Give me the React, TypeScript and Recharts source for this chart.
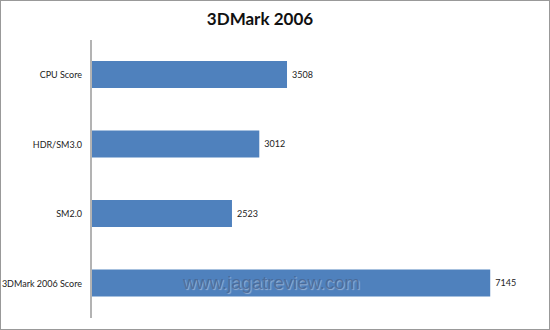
import { BarChart, Bar, XAxis, YAxis, LabelList } from "recharts";

const categories = ["CPU Score", "HDR/SM3.0", "SM2.0", "3DMark 2006 Score"];
const scores = [3508, 3012, 2523, 7145];

const data = categories.map((name, i) => ({ name, score: scores[i] }));

// plain tick so the long label does not wrap
const CatTick = (props: any) => {
  const { x, y, payload } = props;
  return (
    <text
      x={x}
      y={y}
      dy={3.5}
      textAnchor="end"
      fontSize={9}
      fill="#222"
      fontFamily="Lato"
    >
      {payload.value}
    </text>
  );
};

export default function App() {
  return (
    <div
      style={{
        position: "absolute",
        left: 0,
        top: 0,
        width: 550,
        height: 330,
        background: "#fff",
        fontFamily: "Lato, 'Open Sans', sans-serif",
      }}
    >
      <BarChart
        width={550}
        height={330}
        data={data}
        layout="vertical"
        margin={{ top: 40, right: 12, bottom: 12, left: 0 }}
      >
        <XAxis type="number" domain={[0, 8000]} hide />
        <YAxis
          type="category"
          dataKey="name"
          width={91}
          interval={0}
          axisLine={{ stroke: "#b3b3b3", strokeWidth: 2 }}
          tickLine={false}
          tickMargin={3}
          tick={<CatTick />}
        />
        <Bar dataKey="score" fill="#4f81bd" barSize={27} isAnimationActive={false}>
          <LabelList
            dataKey="score"
            position="right"
            offset={5}
            style={{ fontSize: 9, fill: "#222", fontFamily: "Lato" }}
          />
        </Bar>
      </BarChart>

      {/* title */}
      <div
        style={{
          position: "absolute",
          left: 0,
          top: 8,
          width: 520,
          textAlign: "center",
          fontSize: 17,
          fontWeight: "bold",
          color: "#111",
          fontFamily: "Lato",
          lineHeight: "22px",
        }}
      >
        3DMark 2006
      </div>

      {/* watermark */}
      <div
        style={{
          position: "absolute",
          left: 183,
          top: 271,
          fontSize: 18.5,
          fontFamily: "'Liberation Sans', Arial, sans-serif",
          color: "rgba(70,100,145,0.8)",
          textShadow: "1px 1px 1px rgba(200,210,225,0.6)",
          lineHeight: "24px",
          pointerEvents: "none",
        }}
      >
        www.jagatreview.com
      </div>

      {/* frame */}
      <div
        style={{
          position: "absolute",
          left: 0,
          top: 0,
          width: 548,
          height: 328,
          border: "1px solid #999",
          pointerEvents: "none",
        }}
      />
    </div>
  );
}
